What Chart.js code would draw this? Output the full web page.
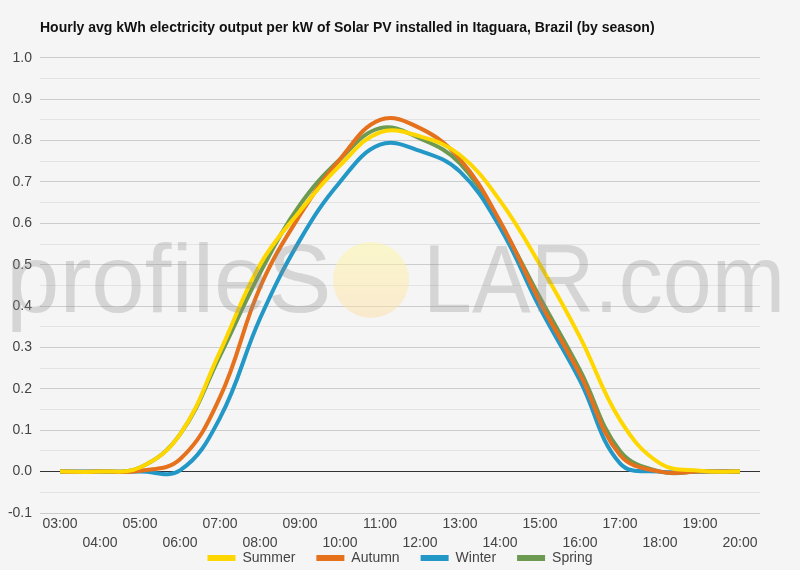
<!DOCTYPE html>
<html>
<head>
<meta charset="utf-8">
<script src="https://cdn.jsdelivr.net/npm/chart.js@4/dist/chart.umd.min.js"></script>
<style>
  html, body { margin: 0; padding: 0; background: #f5f5f5; }
  #wrap { width: 800px; height: 570px; }
</style>
</head>
<body>
<div id="wrap"><canvas id="solar-chart" width="800" height="570"></canvas></div>
<script>
// hourly values
const hours = ['03:00', '04:00', '05:00', '06:00', '07:00', '08:00', '09:00', '10:00', '11:00',
               '12:00', '13:00', '14:00', '15:00', '16:00', '17:00', '18:00', '19:00', '20:00'];
const summer = [0, 0, 0.01, 0.09, 0.29, 0.50, 0.63, 0.74, 0.82, 0.81, 0.765, 0.655, 0.50, 0.325, 0.125, 0.02, 0.002, 0];
const autumn = [0, 0, 0.002, 0.03, 0.18, 0.445, 0.62, 0.755, 0.85, 0.83, 0.755, 0.605, 0.41, 0.235, 0.04, 0, 0, 0];
const winter = [0, 0, 0, 0.003, 0.13, 0.37, 0.56, 0.70, 0.79, 0.775, 0.725, 0.59, 0.395, 0.22, 0.02, 0, 0, 0];
const spring = [0, 0, 0.01, 0.09, 0.28, 0.48, 0.645, 0.755, 0.83, 0.805, 0.745, 0.60, 0.42, 0.245, 0.05, 0, 0, 0];

const FONT = '"Liberation Sans", Arial, sans-serif';

function isMajor(v) {
    return Math.abs(Math.round(v * 10) - v * 10) < 1e-6;
}

// profileSOLAR watermark, drawn over the lines
const watermark = {
    id: 'watermark',
    afterDatasetsDraw(chart) {
        const ctx = chart.ctx;
        ctx.save();
        ctx.font = '96px ' + FONT;
        ctx.textBaseline = 'alphabetic';
        ctx.fillStyle = 'rgba(140,140,140,0.3)';
        ctx.fillText('profileS', 6, 312);
        let g = ctx.createLinearGradient(0, 242, 0, 318);
        g.addColorStop(0, 'rgba(255,248,160,0.5)');
        g.addColorStop(1, 'rgba(255,220,160,0.45)');
        ctx.fillStyle = g;
        ctx.beginPath();
        ctx.arc(371, 280, 38, 0, Math.PI * 2);
        ctx.fill();
        ctx.fillStyle = 'rgba(140,140,140,0.3)';
        ctx.fillText('LAR.com', 423, 312, 362);
        ctx.restore();
    }
};

function series(label, data, color) {
    return {
        label: label,
        data: data,
        borderColor: color,
        backgroundColor: color,
        borderWidth: 4,
        pointRadius: 0,
        tension: 0.4,
        fill: false
    };
}

new Chart(document.getElementById('solar-chart'), {
    type: 'line',
    data: {
        labels: hours,
        datasets: [
            series('Summer', summer, '#ffd700'),
            series('Autumn', autumn, '#e5711d'),
            series('Winter', winter, '#2397c6'),
            series('Spring', spring, '#6c9a51')
        ]
    },
    options: {
        responsive: false,
        animation: false,
        layout: { padding: { left: 0, right: 0, top: 0, bottom: -5 } },
        scales: {
            x: {
                offset: true,
                grid: { display: false, drawTicks: false },
                border: { display: false },
                afterFit: (s) => {
                    s.height = 17;
                    s._computeLabelArea = () => null; // let the 2nd label row spill below
                },
                ticks: {
                    autoSkip: false,
                    maxRotation: 0,
                    padding: 2,
                    color: '#444',
                    font: { family: FONT, size: 14, lineHeight: 1.35 },
                    callback: function (value, index) {
                        let lbl = this.getLabelForValue(value);
                        return index % 2 === 0 ? lbl : ['', lbl];
                    }
                }
            },
            y: {
                min: -0.1,
                max: 1.0,
                border: { display: false },
                afterFit: (s) => { s.width = 40; },
                grid: {
                    drawTicks: false,
                    color: (ctx) => {
                        let v = ctx.tick.value;
                        if (Math.abs(v) < 1e-6) return '#333';
                        return isMajor(v) ? '#cccccc' : '#e3e3e3';
                    }
                },
                ticks: {
                    stepSize: 0.05,
                    maxTicksLimit: 40,
                    padding: 8,
                    color: '#444',
                    font: { family: FONT, size: 14 },
                    callback: (v) => isMajor(v) ? v.toFixed(1) : ''
                }
            },
            // empty right-hand gutter
            yRight: {
                position: 'right',
                grid: { display: false },
                border: { display: false },
                ticks: { display: false },
                afterFit: (s) => { s.width = 40; }
            }
        },
        plugins: {
            title: {
                display: true,
                fullSize: false,
                align: 'start',
                text: 'Hourly avg kWh electricity output per kW of Solar PV installed in Itaguara, Brazil (by season)',
                color: '#111',
                font: { family: FONT, size: 14, weight: 'bold' },
                padding: { top: 20, bottom: 21 }
            },
            legend: {
                position: 'bottom',
                labels: {
                    boxWidth: 28,
                    boxHeight: 6,
                    padding: 21,
                    color: '#444',
                    font: { family: FONT, size: 14 },
                    generateLabels: (chart) => Chart.defaults.plugins.legend.labels.generateLabels(chart)
                        .map(item => { item.lineWidth = 0; return item; })
                }
            },
            tooltip: { enabled: false }
        }
    },
    plugins: [watermark]
});
</script>
</body>
</html>
